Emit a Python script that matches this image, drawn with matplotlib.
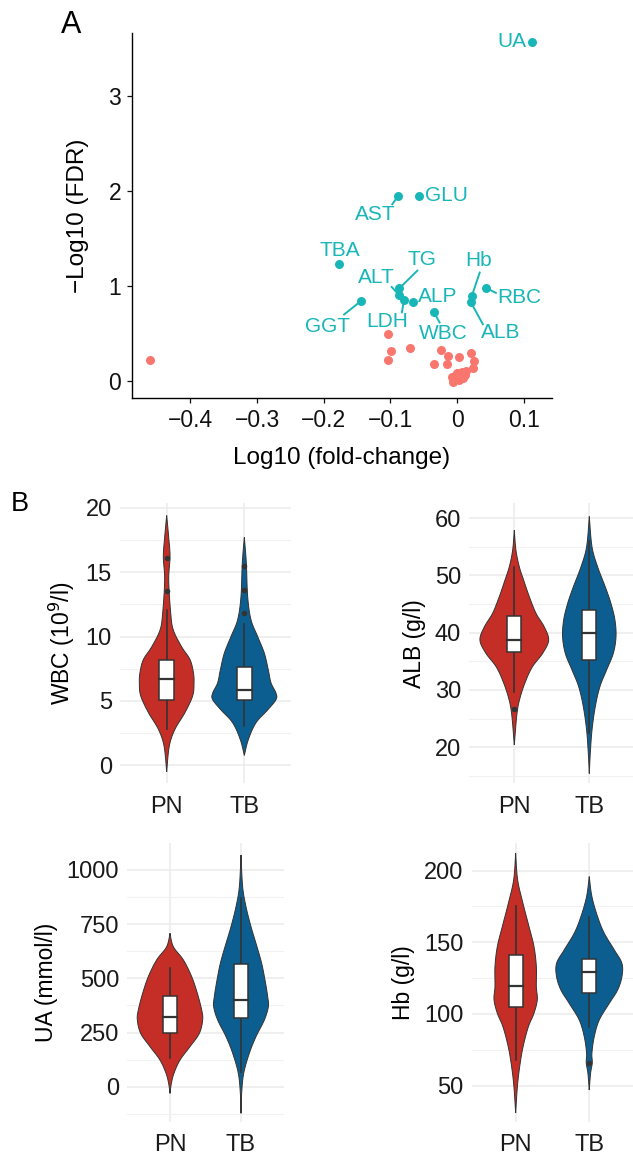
import matplotlib
matplotlib.use("Agg")
import matplotlib.pyplot as plt
import numpy as np

plt.rcParams['font.family'] = ['Liberation Sans', 'DejaVu Sans']

# ---------------- Panel A data ----------------
sig_names = ["UA", "GLU", "AST", "TBA", "TG", "ALT", "LDH", "ALP", "GGT", "WBC", "Hb", "ALB", "RBC"]
sig_fc = [0.113, -0.0565, -0.088, -0.177, -0.0865, -0.0865, -0.0795, -0.066, -0.144, -0.0345, 0.022, 0.0205, 0.043]
sig_fdr = [3.57, 1.95, 1.95, 1.23, 0.974, 0.90, 0.85, 0.83, 0.84, 0.72, 0.89, 0.83, 0.98]

ns_fc = [-0.46, -0.103, -0.0995, -0.104, -0.0705, -0.024, -0.0345, -0.013, -0.0145, 0.0025,
         0.021, 0.025, 0.0245, -0.008, -0.0005, 0.007, 0.0135, -0.0055, 0.0035, 0.0095, 0.012, -0.003]
ns_fdr = [0.22, 0.49, 0.316, 0.215, 0.34, 0.32, 0.18, 0.26, 0.18, 0.25,
          0.295, 0.21, 0.13, 0.035, 0.08, 0.095, 0.105, -0.01, 0.007, 0.025, 0.06, 0.05]

x_ticks_a = [-0.4, -0.3, -0.2, -0.1, 0, 0.1]
x_ticklabels_a = ["\u22120.4", "\u22120.3", "\u22120.2", "\u22120.1", "0", "0.1"]
y_ticks_a = [0, 1, 2, 3]

# ---------------- Panel B data (violin outlines) ----------------
groups = ["PN", "TB"]

wbc_pn_y = [19.4, 17.7, 16.2, 14.4, 11.8, 10.5, 9.2, 8.2, 7.2, 6.4, 5.4, 4.1, 2.8, 1.5, -0.5]
wbc_pn_w = [0, 0.026, 0.043, 0.026, 0.052, 0.086, 0.193, 0.301, 0.344, 0.352, 0.335, 0.236, 0.107, 0.034, 0]
wbc_tb_y = [17.7, 15.7, 13.1, 11.3, 10.0, 8.7, 7.4, 6.4, 5.6, 5.1, 4.3, 3.3, 2.0, 0.77]
wbc_tb_w = [0, 0.026, 0.043, 0.086, 0.172, 0.258, 0.309, 0.344, 0.408, 0.408, 0.301, 0.150, 0.052, 0]
wbc_box = {"PN": (2.8, 5.05, 6.73, 8.2, 12.1), "TB": (3.04, 5.05, 5.82, 7.6, 11.0)}
wbc_out = {"PN": [13.5, 16.1], "TB": [11.85, 13.6, 15.5]}

alb_pn_y = [57.9, 54.4, 51.5, 49.2, 46.3, 43.4, 41.0, 38.7, 36.4, 34.1, 31.7, 28.8, 25.9, 20.4]
alb_pn_w = [0, 0.022, 0.067, 0.124, 0.2, 0.289, 0.4, 0.458, 0.378, 0.244, 0.156, 0.08, 0.036, 0]
alb_tb_y = [60.3, 55.0, 51.5, 48.0, 45.1, 42.2, 39.3, 36.4, 33.5, 30.6, 27.1, 23.0, 18.9, 15.4]
alb_tb_w = [0, 0.036, 0.111, 0.213, 0.289, 0.342, 0.356, 0.32, 0.231, 0.142, 0.08, 0.036, 0.013, 0]
alb_box = {"PN": (29.7, 36.6, 38.7, 42.9, 51.4), "TB": (22.4, 35.2, 39.9, 44.0, 56.0)}
alb_out = {"PN": [26.6], "TB": []}

ua_pn_y = [708, 646, 585, 508, 431, 354, 308, 246, 185, 123, 62, 15, -31]
ua_pn_w = [0, 0.047, 0.188, 0.305, 0.385, 0.446, 0.46, 0.413, 0.282, 0.141, 0.056, 0.019, 0]
ua_tb_y = [1069, 923, 831, 738, 646, 569, 492, 415, 369, 308, 231, 154, 62, -31, -123]
ua_tb_w = [0, 0.023, 0.070, 0.141, 0.225, 0.291, 0.338, 0.376, 0.385, 0.329, 0.211, 0.117, 0.038, 0.009, 0]
ua_box = {"PN": (131, 246, 320, 420, 546), "TB": (70, 315, 400, 566, 870)}
ua_out = {"PN": [], "TB": []}

hb_pn_y = [212, 193.5, 177, 161, 147, 133, 119, 110, 100.5, 91, 77, 63, 49, 31]
hb_pn_w = [0, 0.027, 0.1, 0.181, 0.249, 0.281, 0.281, 0.294, 0.249, 0.172, 0.1, 0.054, 0.023, 0]
hb_tb_y = [195.8, 181.9, 167.9, 156.3, 144.7, 135.3, 126, 116.7, 107.4, 95.8, 84.2, 72.6, 66, 58.6, 47]
hb_tb_w = [0, 0.036, 0.113, 0.204, 0.34, 0.444, 0.444, 0.385, 0.272, 0.136, 0.068, 0.036, 0.041, 0.018, 0]
hb_box = {"PN": (67.9, 105.1, 119.8, 141.2, 175.3), "TB": (91.2, 114.4, 129.5, 138.4, 167.9)}
hb_out = {"PN": [], "TB": [66]}

# ---------------- styles ----------------
CYAN = "#19B6B8"
SALMON = "#F8766D"
RED = "#C52E26"
BLUE = "#0C5E90"

fig = plt.figure(figsize=(6.33, 11.55), dpi=100)
W, H = 633.0, 1155.0


def px_axes(x0, x1, y0, y1):
    return fig.add_axes([x0 / W, 1 - y1 / H, (x1 - x0) / W, (y1 - y0) / H])


# ---------------- Panel A ----------------
axA = px_axes(131.7, 551.7, 33.3, 398.3)
axA.scatter(ns_fc, ns_fdr, s=42, color=SALMON, linewidths=0, zorder=3)
axA.scatter(sig_fc, sig_fdr, s=42, color=CYAN, linewidths=0, zorder=3)
axA.set_xlim(-0.488, 0.142)
axA.set_ylim(-0.185, 3.66)
axA.set_xticks(x_ticks_a)
axA.set_xticklabels(x_ticklabels_a)
axA.set_yticks(y_ticks_a)
for s in ["top", "right"]:
    axA.spines[s].set_visible(False)
for s in ["left", "bottom"]:
    axA.spines[s].set_linewidth(1.0)
axA.tick_params(axis="both", length=3.5, width=0.9, labelsize=16.5, pad=4, colors="#111111")
axA.set_xlabel("Log10 (fold-change)", fontsize=17.5, labelpad=11)
axA.set_ylabel("\u2212Log10 (FDR)", fontsize=17.5, labelpad=14)

# label placement: name -> (label x, label y, ha, segment end x, segment end y or None)
label_layout = {
    "UA": (0.104, 3.57, "right", None, None),
    "GLU": (-0.0155, 1.948, "center", None, None),
    "AST": (-0.122, 1.746, "center", -0.098, 1.851),
    "TBA": (-0.176, 1.367, "center", None, None),
    "TG": (-0.053, 1.28, "center", -0.0585, 1.167),
    "ALT": (-0.1205, 1.087, "center", -0.099, 0.995),
    "LDH": (-0.105, 0.62, "center", -0.083, 0.71),
    "ALP": (-0.0295, 0.885, "center", None, None),
    "GGT": (-0.195, 0.57, "center", -0.1705, 0.692),
    "WBC": (-0.021, 0.50, "center", -0.0255, 0.605),
    "Hb": (0.032, 1.263, "center", 0.0345, 1.149),
    "RBC": (0.093, 0.877, "center", 0.0595, 0.921),
    "ALB": (0.0657, 0.508, "center", 0.0394, 0.587),
}
for name, fx, fy in zip(sig_names, sig_fc, sig_fdr):
    lx, ly, ha, ex, ey = label_layout[name]
    axA.text(lx, ly, name, color=CYAN, fontsize=15, ha=ha, va="center", zorder=4)
    if ex is not None:
        axA.plot([fx, ex], [fy, ey], color=CYAN, lw=1.4, zorder=2, solid_capstyle="butt")

fig.text(71 / W, 1 - 25 / H, "A", fontsize=22, ha="center", va="center")
fig.text(20 / W, 1 - 504 / H, "B", fontsize=19.5, ha="center", va="center")


# ---------------- Panel B ----------------
def smooth_outline(ys, ws, n=12):
    ys = np.asarray(ys, float)
    ws = np.asarray(ws, float)
    P = np.column_stack([ys, ws])
    P = np.vstack([P[0], P, P[-1]])
    out = []
    for i in range(1, len(P) - 2):
        p0, p1, p2, p3 = P[i - 1], P[i], P[i + 1], P[i + 2]
        for t in np.linspace(0, 1, n, endpoint=False):
            t2, t3 = t * t, t * t * t
            pt = 0.5 * ((2 * p1) + (-p0 + p2) * t + (2 * p0 - 5 * p1 + 4 * p2 - p3) * t2
                        + (-p0 + 3 * p1 - 3 * p2 + p3) * t3)
            out.append(pt)
    out.append(P[-2])
    out = np.array(out)
    return out[:, 0], np.clip(out[:, 1], 0, None)


def violin_panel(rect, ylim, yticks, minor, ylabel, profiles, boxes, outs):
    ax = px_axes(*rect)
    ax.set_xlim(0.4, 2.6)
    ax.set_ylim(*ylim)
    ax.set_xticks([1, 2])
    ax.set_xticklabels(groups)
    ax.set_yticks(yticks)
    ax.set_yticklabels([str(t) for t in yticks])
    ax.set_yticks(minor, minor=True)
    ax.grid(which="major", color="#EBEBEB", lw=1.1, zorder=0)
    ax.grid(which="minor", axis="y", color="#F1F1F1", lw=0.8, zorder=0)
    ax.set_axisbelow(True)
    for s in ax.spines.values():
        s.set_visible(False)
    ax.tick_params(axis="both", which="both", length=0, labelsize=17, colors="#1a1a1a")
    ax.tick_params(axis="y", pad=6)
    ax.tick_params(axis="x", pad=9)
    ax.set_ylabel(ylabel, fontsize=16.5, labelpad=6)
    for i, (g, col) in enumerate(zip(groups, [RED, BLUE])):
        pos = i + 1
        ys, ws = profiles[g]
        yy, ww = smooth_outline(ys, ws)
        ax.fill(np.concatenate([pos - ww, (pos + ww)[::-1]]), np.concatenate([yy, yy[::-1]]),
                facecolor=col, edgecolor="#333333", lw=0.7, zorder=2)
        wlo, q1, med, q3, whi = boxes[g]
        ax.plot([pos, pos], [wlo, q1], color="#333333", lw=1.2, zorder=3)
        ax.plot([pos, pos], [q3, whi], color="#333333", lw=1.2, zorder=3)
        bw = 0.095
        ax.add_patch(plt.Rectangle((pos - bw, q1), 2 * bw, q3 - q1, facecolor="white",
                                   edgecolor="#333333", lw=1.1, zorder=4))
        ax.plot([pos - bw, pos + bw], [med, med], color="#333333", lw=1.6, zorder=5)
        if outs[g]:
            ax.scatter([pos] * len(outs[g]), outs[g], s=16, color="#333333", zorder=5, linewidths=0)
    return ax


violin_panel((120.1, 290.9, 503.3, 783.3), (-1.4, 20.35), [0, 5, 10, 15, 20],
             [2.5, 7.5, 12.5, 17.5], "WBC (10$^{9}$/l)",
             {"PN": (wbc_pn_y, wbc_pn_w), "TB": (wbc_tb_y, wbc_tb_w)}, wbc_box, wbc_out)
violin_panel((469.3, 634.3, 503.3, 783.3), (13.7, 62.6), [20, 30, 40, 50, 60],
             [15, 25, 35, 45, 55], "ALB (g/l)",
             {"PN": (alb_pn_y, alb_pn_w), "TB": (alb_tb_y, alb_tb_w)}, alb_box, alb_out)
violin_panel((127.4, 283.6, 843.3, 1121.7), (-161.5, 1123), [0, 250, 500, 750, 1000],
             [-125, 125, 375, 625, 875], "UA (mmol/l)",
             {"PN": (ua_pn_y, ua_pn_w), "TB": (ua_tb_y, ua_tb_w)}, ua_box, ua_out)
violin_panel((471.5, 633.4, 843.3, 1121.7), (24.9, 219), [50, 100, 150, 200],
             [75, 125, 175], "Hb (g/l)",
             {"PN": (hb_pn_y, hb_pn_w), "TB": (hb_tb_y, hb_tb_w)}, hb_box, hb_out)

fig.savefig("out.png", dpi=100)
